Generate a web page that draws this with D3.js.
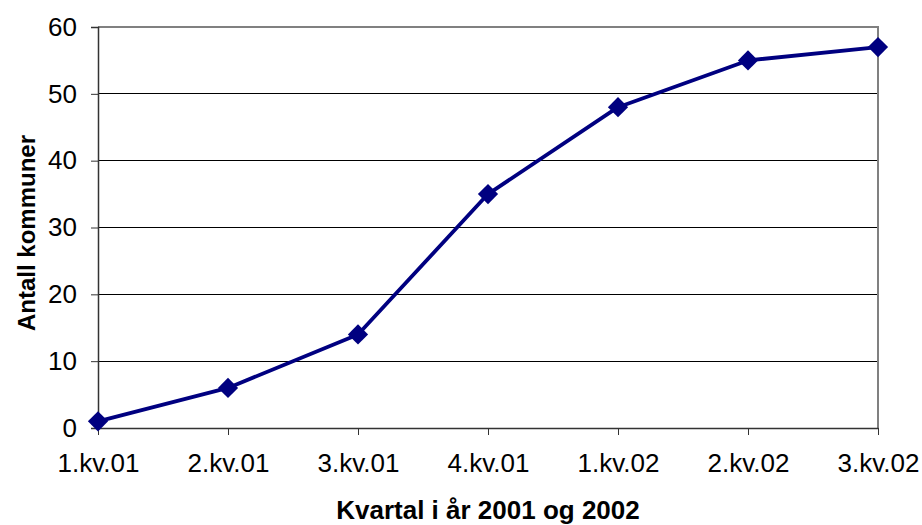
<!DOCTYPE html>
<html>
<head>
<meta charset="utf-8">
<script src="https://cdn.jsdelivr.net/npm/d3@7"></script>
<style>
  body { margin: 0; background: #fff; }
  svg { display: block; font-family: "Liberation Sans", Arial, sans-serif; }
</style>
</head>
<body>
<div id="chart"></div>
<script>
// quarters and number of municipalities
const quarters = ["1.kv.01", "2.kv.01", "3.kv.01", "4.kv.01", "1.kv.02", "2.kv.02", "3.kv.02"];
const kommuner = [1, 6, 14, 35, 48, 55, 57];
const yTicks = [0, 10, 20, 30, 40, 50, 60];

const width = 922, height = 525;
const margin = { top: 27, right: 44, bottom: 97, left: 98 };
const innerW = width - margin.left - margin.right;
const innerH = height - margin.top - margin.bottom;

const svg = d3.select("#chart").append("svg")
    .attr("width", width)
    .attr("height", height);

const g = svg.append("g")
    .attr("transform", `translate(${margin.left},${margin.top})`);

const x = d3.scalePoint()
    .domain(quarters)
    .range([0, innerW]);

const y = d3.scaleLinear()
    .domain([0, 60])
    .range([innerH, 0]);

// gridlines
g.selectAll(".grid")
    .data(yTicks.filter(d => d > 0 && d < 60))
    .enter().append("line")
    .attr("x1", 0)
    .attr("x2", innerW)
    .attr("y1", d => y(d))
    .attr("y2", d => y(d))
    .attr("stroke", "#000")
    .attr("stroke-width", 1)
    .attr("shape-rendering", "crispEdges");

// plot border top + right
g.append("path")
    .attr("d", `M0,${y(60)}H${innerW}V${innerH}`)
    .attr("fill", "none")
    .attr("stroke", "#808080")
    .attr("stroke-width", 1.5)
    .attr("shape-rendering", "crispEdges");

// y axis
const yAxis = g.append("g")
    .call(d3.axisLeft(y).tickValues(yTicks).tickSize(7).tickPadding(14));
yAxis.select(".domain").attr("stroke", "#333").attr("stroke-width", 1.5);
yAxis.selectAll(".tick line").attr("stroke", "#333");
yAxis.selectAll("text")
    .attr("font-size", 26)
    .attr("fill", "#000")
    .attr("font-family", "Liberation Sans, Arial, sans-serif");

// x axis
const xAxis = g.append("g")
    .attr("transform", `translate(0,${innerH})`)
    .call(d3.axisBottom(x).tickSize(7).tickPadding(19).tickSizeOuter(0));
xAxis.select(".domain").attr("stroke", "#333").attr("stroke-width", 1.5);
xAxis.selectAll(".tick line").attr("stroke", "#333");
xAxis.selectAll("text")
    .attr("font-size", 26)
    .attr("fill", "#000")
    .attr("font-family", "Liberation Sans, Arial, sans-serif");

// line
const line = d3.line()
    .x((d, i) => x(quarters[i]))
    .y(d => y(d));

g.append("path")
    .datum(kommuner)
    .attr("d", line)
    .attr("fill", "none")
    .attr("stroke", "#000080")
    .attr("stroke-width", 3.8)
    .attr("stroke-linejoin", "round");

// diamond markers
const diamond = d3.symbol().type(d3.symbolDiamond2).size(260);
g.selectAll(".marker")
    .data(kommuner)
    .enter().append("path")
    .attr("d", diamond)
    .attr("transform", (d, i) => `translate(${x(quarters[i])},${y(d)})`)
    .attr("fill", "#000080");

// axis titles
svg.append("text")
    .attr("x", 488)
    .attr("y", 519)
    .attr("text-anchor", "middle")
    .attr("font-size", 26)
    .attr("font-weight", "bold")
    .text("Kvartal i år 2001 og 2002");

svg.append("text")
    .attr("transform", `translate(35,233) rotate(-90)`)
    .attr("text-anchor", "middle")
    .attr("font-size", 24)
    .attr("font-weight", "bold")
    .text("Antall kommuner");
</script>
</body>
</html>
